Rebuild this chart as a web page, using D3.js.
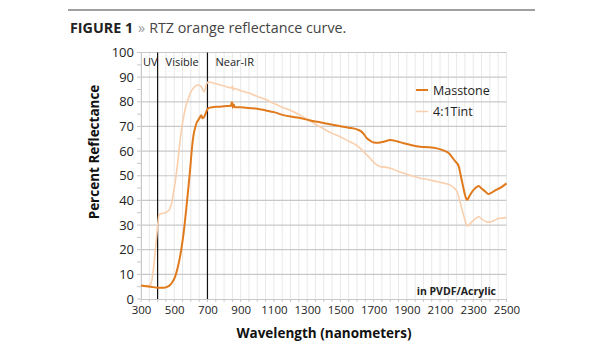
<!DOCTYPE html>
<html><head><meta charset="utf-8">
<script src="https://cdn.jsdelivr.net/npm/d3@7"></script>
<style>body{margin:0;background:#fff;} svg{display:block;font-family:"Open Sans",sans-serif;}</style>
</head><body><svg id="c" width="615" height="350"></svg>
<script>
const masstoneWl = [300,330,360,400,440,460,475,490,505,520,535,550,561,573,585,595,605,615,625,635,645,655,663,670,677,685,695,706,730,760,800,840,848,852,858,865,900,950,1000,1050,1100,1158,1200,1250,1308,1350,1400,1459,1500,1550,1600,1625,1640,1660,1680,1700,1730,1760,1800,1840,1881,1930,1982,2030,2082,2120,2150,2170,2190,2213,2225,2239,2252,2263,2275,2293,2313,2333,2350,2374,2390,2404,2425,2444,2470,2500];
const masstoneR = [5.5,5.2,5.0,4.6,4.6,5.0,5.7,7.0,9.0,12.5,17.2,23.5,29.3,37,45,52,60,66,69.2,71.5,72.6,73.8,74.5,73.3,73.6,74.5,76.3,77.4,77.8,78.0,78.2,78.4,79.8,77.6,78.9,77.8,77.8,77.5,77.2,76.5,75.8,74.6,74.0,73.5,72.6,72.0,71.4,70.6,70.1,69.5,68.8,68.0,67.0,65.2,64.2,63.5,63.4,63.8,64.5,64.0,63.2,62.4,61.8,61.6,61.1,60.3,59.3,57.8,56.0,53.7,50.0,45.6,41.8,40.2,41.5,43.5,45.0,45.8,44.8,43.5,42.6,42.9,43.8,44.5,45.4,46.9];
const tintWl = [300,330,355,365,374,384,394,402,408,420,445,465,475,485,495,505,515,530,545,560,575,585,600,615,630,645,658,666,673,680,688,696,706,716,750,800,845,850,855,862,900,957,1000,1058,1100,1150,1218,1258,1308,1359,1400,1450,1499,1550,1600,1620,1640,1660,1680,1700,1720,1741,1770,1801,1840,1881,1930,1982,2030,2082,2120,2162,2185,2203,2218,2233,2248,2263,2275,2293,2313,2333,2350,2374,2395,2414,2435,2454,2475,2500];
const tintR = [5.5,5.4,5.7,7.5,11.8,18,25.3,31,34,34.6,35,35.8,36.8,39,42.9,47,52,61,69.2,75,79.5,81.4,84,85.5,86.5,86.8,86.4,85.8,84.6,84.1,85.5,87.5,88.0,87.9,87.3,86.4,85.6,86.5,84.8,85.4,84.5,83.4,82.2,80.7,79.3,77.8,76.0,74.6,72.6,70.6,69.0,67.2,65.8,64.0,62.2,61.1,59.8,58.4,57,55.5,54.4,53.7,53.5,53.0,52.0,51,50,49,48.4,47.6,47.0,46.2,45.0,43.5,40.0,36.1,32.5,29.6,30.2,31.4,32.6,33.4,32.5,31.4,31.2,31.4,32.2,32.7,32.8,33.0];
const xTicks = [300,500,700,900,1100,1300,1500,1700,1900,2100,2300,2500];
const yTicks = [0,10,20,30,40,50,60,70,80,90,100];
const regionLines = [400,700];
const regionLabels = [{t:"UV",x:300},{t:"Visible",x:400},{t:"Near-IR",x:700}];
const seriesNames = ["Masstone","4:1Tint"];
const colors = ["#e07a1c","#f9cfad"];

const svg = d3.select("#c");
const x = d3.scaleLinear().domain([300,2500]).range([141,506.5]);
const y = d3.scaleLinear().domain([0,100]).range([299,52.5]);

// header
svg.append("line").attr("x1",68).attr("x2",535).attr("y1",10).attr("y2",10).attr("stroke","#808080").attr("stroke-width",1.5);
const ht = svg.append("text").attr("x",70).attr("y",33).attr("font-size",14.3).attr("fill","#222");
ht.append("tspan").attr("font-weight","bold").text("FIGURE 1");
ht.append("tspan").attr("fill","#999").attr("dx",5).text("»");
ht.append("tspan").attr("fill","#444").attr("dx",4).text("RTZ orange reflectance curve.");

// vertical minor gridlines every 50
const vg = d3.range(300,2501,50);
svg.append("g").selectAll("line").data(vg).join("line")
  .attr("x1",d=>x(d)).attr("x2",d=>x(d)).attr("y1",y(0)).attr("y2",y(100))
  .attr("stroke","#e8e8e8").attr("stroke-width",1);
// horizontal gridlines
svg.append("g").selectAll("line").data(yTicks.filter(d=>d>0)).join("line")
  .attr("x1",x(300)).attr("x2",x(2500)).attr("y1",d=>y(d)).attr("y2",d=>y(d))
  .attr("stroke","#c8c8c8").attr("stroke-width",1.2);

// axes
const yAxis = d3.axisLeft(y).tickValues(yTicks).tickSize(0).tickPadding(7);
const gy = svg.append("g").attr("transform",`translate(${x(300)},0)`).call(yAxis);
gy.select(".domain").attr("stroke","#c8c8c8");
gy.selectAll("text").attr("font-size",13).attr("fill","#222").attr("font-family","Open Sans");
svg.append("g").selectAll("line").data(d3.range(0,101,5)).join("line")
  .attr("x1",x(300)-4).attr("x2",x(300)).attr("y1",d=>y(d)).attr("y2",d=>y(d)).attr("stroke","#c8c8c8");

const xAxis = d3.axisBottom(x).tickValues(xTicks).tickFormat(d3.format("d")).tickSize(0).tickPadding(7);
const gx = svg.append("g").attr("transform",`translate(0,${y(0)})`).call(xAxis);
gx.select(".domain").attr("stroke","#c8c8c8");
gx.selectAll("text").attr("font-size",11.5).attr("fill","#222").attr("font-family","Open Sans");
svg.append("g").selectAll("line").data(vg).join("line")
  .attr("x1",d=>x(d)).attr("x2",d=>x(d)).attr("y1",y(0)).attr("y2",y(0)+3).attr("stroke","#c8c8c8");

// region lines
svg.append("g").selectAll("line").data(regionLines).join("line")
  .attr("x1",d=>x(d)).attr("x2",d=>x(d)).attr("y1",y(0)).attr("y2",y(100))
  .attr("stroke","#111").attr("stroke-width",1.2);
svg.append("g").selectAll("text").data(regionLabels).join("text")
  .attr("x",d=>x(d.x)+(d.x===300?2:8)).attr("y",y(96)+4).attr("font-size",11).attr("fill","#222").text(d=>d.t);

// lines
const line = d3.line().curve(d3.curveMonotoneX);
const tintPts = tintWl.map((w,i)=>[x(w),y(tintR[i])]);
const massPts = masstoneWl.map((w,i)=>[x(w),y(masstoneR[i])]);
svg.append("path").attr("d",line(tintPts)).attr("fill","none").attr("stroke",colors[1]).attr("stroke-width",1.6);
svg.append("path").attr("d",line(massPts)).attr("fill","none").attr("stroke",colors[0]).attr("stroke-width",2);

// legend
const lg = svg.append("g");
seriesNames.forEach((n,i)=>{
  const yy = 90 + i*21.5;
  lg.append("line").attr("x1",416).attr("x2",428).attr("y1",yy).attr("y2",yy).attr("stroke",colors[i]).attr("stroke-width",i===0?2:1.5);
  lg.append("text").attr("x",433).attr("y",yy+4.5).attr("font-size",12.5).attr("fill","#222").text(n);
});

// note
svg.append("text").attr("x",496).attr("y",295).attr("text-anchor","end").attr("font-size",10.5).attr("font-weight","bold").attr("fill","#222").text("in PVDF/Acrylic");

// axis titles
svg.append("text").attr("transform","translate(99,152) rotate(-90)").attr("text-anchor","middle").attr("font-size",13.5).attr("font-weight","bold").attr("fill","#111").text("Percent Reflectance");
svg.append("text").attr("x",324).attr("y",338).attr("text-anchor","middle").attr("font-size",13.5).attr("font-weight","bold").attr("fill","#111").text("Wavelength (nanometers)");
</script></body></html>
